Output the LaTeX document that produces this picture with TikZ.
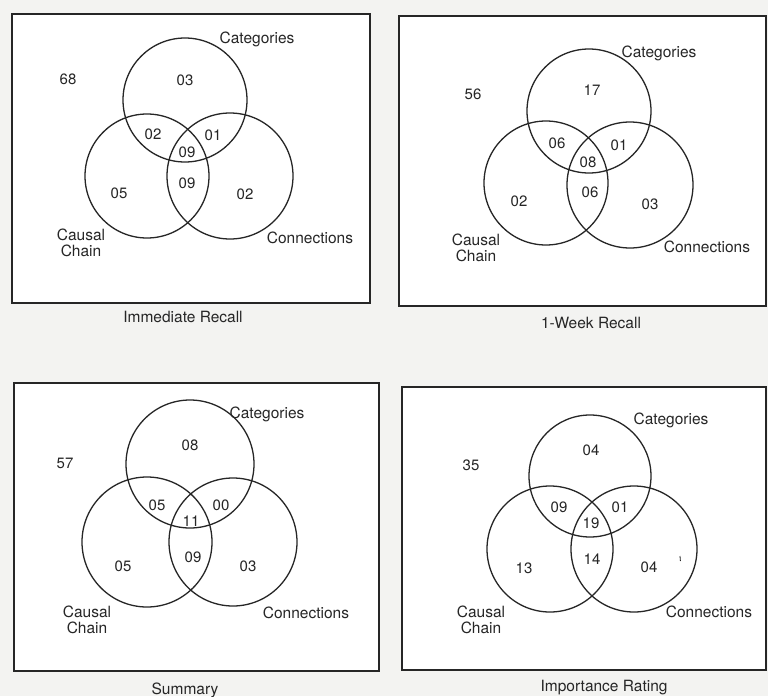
\documentclass[tikz,border=0pt]{standalone}
\usepackage{fontspec}
\setmainfont{TeX Gyre Heros}
\definecolor{ink}{HTML}{262626}
\definecolor{paper}{HTML}{F3F3F1}
\tikzset{
  frame/.style={draw=ink, line width=1.5pt, fill=white},
  venn/.style={circle, draw=ink, line width=1.3pt, inner sep=0pt, minimum size=#1},
  num/.style={font=\fontsize{15}{15}\selectfont, inner sep=0pt, text=ink},
  lab/.style={font=\fontsize{15.5}{16}\selectfont, inner sep=0pt, text=ink, align=center},
  ttl/.style={font=\fontsize{15.5}{16}\selectfont, inner sep=0pt, text=ink},
}
\begin{document}
\begin{tikzpicture}[x=1pt, y=-1pt]
\useasboundingbox[fill=paper] (0,0) rectangle (768,696);

% ---------- Immediate Recall ----------
\draw[frame] (12,14) rectangle (370,303);
\node[venn=124pt] (a-cat) at (185,100) {};
\node[venn=124pt] (a-cau) at (147,176) {};
\node[venn=126pt] (a-con) at (230,176) {};
\node[num] (a-out) at (68,79) {68};
\node[num] (a-c) at (185,80) {03};
\node[num] (a-cc) at (153,134) {02};
\node[num] (a-cn) at (213,135) {01};
\node[num] (a-all) at (187,152) {09};
\node[num] (a-hn) at (187,183) {09};
\node[num] (a-h) at (119,193) {05};
\node[num] (a-n) at (245,194) {02};
\node[lab] (a-lcat) at (257,39) {Categories};
\node[lab] (a-lcau) at (81,243) {Causal\\Chain};
\node[lab] (a-lcon) at (310,238) {Connections};
\node[ttl] (a-title) at (183,317) {Immediate Recall};

% ---------- 1-Week Recall ----------
\draw[frame] (399,16) rectangle (766,306);
\node[venn=124pt] (b-cat) at (589,111) {};
\node[venn=124pt] (b-cau) at (546,183) {};
\node[venn=126pt] (b-con) at (630,185) {};
\node[num] (b-out) at (473,94) {56};
\node[num] (b-c) at (592,90) {17};
\node[num] (b-cc) at (557,143) {06};
\node[num] (b-cn) at (619,145) {01};
\node[num] (b-all) at (588,162) {08};
\node[num] (b-hn) at (590,192) {06};
\node[num] (b-h) at (519,201) {02};
\node[num] (b-n) at (650,204) {03};
\node[lab] (b-lcat) at (659,53) {Categories};
\node[lab] (b-lcau) at (476,248) {Causal\\Chain};
\node[lab] (b-lcon) at (707,247) {Connections};
\node[ttl] (b-title) at (591,323) {1-Week Recall};

% ---------- Summary ----------
\draw[frame] (14,383) rectangle (379,671);
\node[venn=128pt] (c-cat) at (190,464) {};
\node[venn=130pt] (c-cau) at (147,542) {};
\node[venn=128pt] (c-con) at (233,542) {};
\node[num] (c-out) at (65,463) {57};
\node[num] (c-c) at (190,445) {08};
\node[num] (c-cc) at (157,505) {05};
\node[num] (c-cn) at (221,505) {00};
\node[num] (c-all) at (191,521) {11};
\node[num] (c-hn) at (193,557) {09};
\node[num] (c-h) at (123,566) {05};
\node[num] (c-n) at (248,566) {03};
\node[lab] (c-lcat) at (267,414) {Categories};
\node[lab] (c-lcau) at (87,620) {Causal\\Chain};
\node[lab] (c-lcon) at (306,613) {Connections};
\node[ttl] (c-title) at (185,690) {Summary};

% ---------- Importance Rating ----------
\draw[frame] (402,387) rectangle (766,670);
\node[venn=122pt] (d-cat) at (590,476) {};
\node[venn=126pt] (d-cau) at (550,549) {};
\node[venn=126pt] (d-con) at (634,549) {};
\node[num] (d-out) at (471,465) {35};
\node[num] (d-c) at (591,450) {04};
\node[num] (d-cc) at (559,507) {09};
\node[num] (d-cn) at (620,507) {01};
\node[num] (d-all) at (591,523) {19};
\node[num] (d-hn) at (592,559) {14};
\node[num] (d-h) at (524,568) {13};
\node[num] (d-n) at (649,567) {04};
\node[lab] (d-lcat) at (671,420) {Categories};
\node[lab] (d-lcau) at (481,620) {Causal\\Chain};
\node[lab] (d-lcon) at (709,612) {Connections};
\node[ttl] (d-title) at (604,688) {Importance Rating};
% small stray tick right of the lone 04
\coordinate (d-tick) at (680,556);
\draw[ink, line width=0.8pt] (d-tick) -- ++(0.4,5);
\end{tikzpicture}
\end{document}
